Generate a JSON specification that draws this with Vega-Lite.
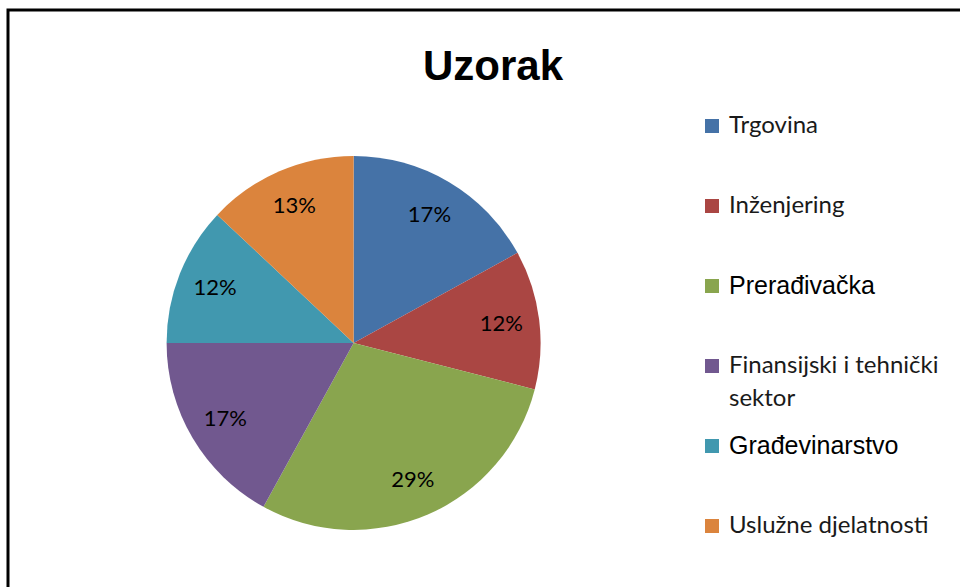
{
  "$schema": "https://vega.github.io/schema/vega-lite/v6.json",
  "autosize": "none",
  "width": 956,
  "height": 581,
  "padding": {"left": 8, "top": 10, "right": -4, "bottom": -4},
  "background": "white",
  "config": {"view": {"stroke": "black", "strokeWidth": 3}},
  "title": {
    "text": "Uzorak",
    "font": "Liberation Sans",
    "fontSize": 42,
    "fontWeight": "bold",
    "color": "black",
    "anchor": "middle",
    "dx": 7,
    "offset": -112,
    "baseline": "alphabetic"
  },
  "data": {
    "values": [
      {"rb": 1, "sektor": "Trgovina", "udio": 0.17},
      {"rb": 2, "sektor": "Inženjering", "udio": 0.12},
      {"rb": 3, "sektor": "Prerađivačka", "udio": 0.29},
      {"rb": 4, "sektor": "Finansijski i tehnički sektor", "udio": 0.17},
      {"rb": 5, "sektor": "Građevinarstvo", "udio": 0.12},
      {"rb": 6, "sektor": "Uslužne djelatnosti", "udio": 0.13}
    ]
  },
  "encoding": {
    "theta": {"field": "udio", "type": "quantitative", "stack": true},
    "order": {"field": "rb", "type": "quantitative", "sort": "ascending"},
    "x": {"datum": 0.3615, "type": "quantitative", "scale": {"domain": [0, 1]}, "axis": null},
    "y": {"datum": 0.427, "type": "quantitative", "scale": {"domain": [0, 1]}, "axis": null},
    "color": {
      "field": "sektor",
      "type": "nominal",
      "sort": ["Trgovina", "Inženjering", "Prerađivačka", "Finansijski i tehnički sektor", "Građevinarstvo", "Uslužne djelatnosti"],
      "scale": {
        "domain": ["Trgovina", "Inženjering", "Prerađivačka", "Finansijski i tehnički sektor", "Građevinarstvo", "Uslužne djelatnosti"],
        "range": ["#4572A7", "#AA4643", "#89A54E", "#71588F", "#4198AF", "#DB843D"]
      },
      "legend": {
        "title": null,
        "orient": "none",
        "legendX": 692,
        "legendY": 104,
        "symbolType": "square",
        "symbolSize": 196,
        "symbolStrokeWidth": 0,
        "symbolOpacity": 1,
        "labelFont": "Lato",
        "labelFontSize": 24,
        "labelColor": "#1a1a1a",
        "labelOffset": 5,
        "labelLimit": 300,
        "rowPadding": 23,
        "gridAlign": "all",
        "padding": 0,
        "labelExpr": "datum.label == 'Finansijski i tehnički sektor' ? ['Finansijski i tehnički', 'sektor'] : datum.label",
        "encode": {
          "labels": {
            "update": {
              "font": {"signal": "datum.label == 'Prerađivačka' || datum.label == 'Građevinarstvo' ? 'Liberation Sans' : 'Lato'"},
              "fontSize": {"signal": "datum.label == 'Prerađivačka' || datum.label == 'Građevinarstvo' ? 25 : 24"},
              "fill": {"signal": "datum.label == 'Prerađivačka' || datum.label == 'Građevinarstvo' ? 'black' : '#1a1a1a'"},
              "lineHeight": {"value": 33}
            }
          }
        }
      }
    }
  },
  "layer": [
    {"mark": {"type": "arc", "outerRadius": 187}},
    {
      "mark": {"type": "text", "radius": 149, "font": "Lato", "fontSize": 22},
      "encoding": {
        "text": {"field": "udio", "type": "quantitative", "format": ".0%"},
        "color": {"value": "black"}
      }
    }
  ]
}
